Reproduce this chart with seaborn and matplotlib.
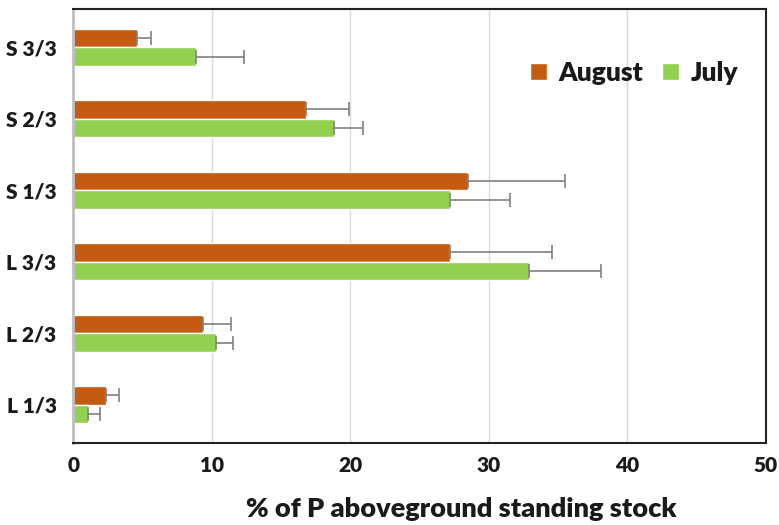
import numpy as np
import pandas as pd
import matplotlib
matplotlib.use('Agg')
import matplotlib.pyplot as plt
import seaborn as sns

# categories, top to bottom as drawn
sites = ['S 3/3', 'S 2/3', 'S 1/3', 'L 3/3', 'L 2/3', 'L 1/3']
months = ['August', 'July']

august = [4.6, 16.8, 28.5, 27.2, 9.4, 2.4]
august_err = [1.0, 3.1, 7.0, 7.4, 2.0, 0.9]
july = [8.9, 18.8, 27.2, 32.9, 10.3, 1.1]
july_err = [3.4, 2.1, 4.3, 5.2, 1.2, 0.8]

colors = {'August': '#C55A11', 'July': '#92D050'}

df = pd.DataFrame({
    'site': sites * 2,
    'month': ['August'] * len(sites) + ['July'] * len(sites),
    'value': august + july,
})

sns.set_style('white')
plt.rcParams['font.family'] = ['Lato', 'DejaVu Sans']

fig = plt.figure(figsize=(7.79, 5.25), dpi=100)
ax = fig.add_axes([0.094, 0.156, 0.889, 0.827])

sns.barplot(data=df, x='value', y='site', hue='month', order=sites,
            hue_order=months, palette=colors, width=0.52, orient='h',
            errorbar=None, ax=ax, legend=True, saturation=1)

# one-sided error bars to the right
errs = {'August': august_err, 'July': july_err}
for cont, m in zip(ax.containers, months):
    ys = [p.get_y() + p.get_height() / 2 for p in cont]
    xs = [p.get_width() for p in cont]
    e = np.array(errs[m])
    ax.errorbar(xs, ys, xerr=[np.zeros_like(e), e], fmt='none',
                ecolor='#808080', elinewidth=1.2, capsize=5, capthick=1.2)

ax.set_xlim(0, 50)
ax.set_xticks(range(0, 51, 10))
ax.xaxis.grid(True, color='#D9D9D9', linewidth=1)
ax.set_axisbelow(True)
ax.set_ylabel('')
ax.set_xlabel('% of P aboveground standing stock', fontsize=19.5,
              fontweight='heavy', labelpad=16, color='#1a1a1a')
ax.xaxis.label.set_x(0.56)
ax.tick_params(axis='x', labelsize=15, pad=9, length=0)
ax.tick_params(axis='y', labelsize=15, pad=12, length=0)
for lab in ax.get_xticklabels() + ax.get_yticklabels():
    lab.set_fontweight('heavy')
    lab.set_color('#1a1a1a')

for side in ['top', 'right', 'bottom']:
    ax.spines[side].set_color('#222222')
    ax.spines[side].set_linewidth(1.5)
ax.spines['left'].set_color('#BFBFBF')
ax.spines['left'].set_linewidth(2)

leg = ax.legend(loc='upper right', bbox_to_anchor=(0.995, 0.935), ncol=2,
                frameon=False, handlelength=0.65, handleheight=0.65,
                handletextpad=0.45, columnspacing=0.7,
                prop={'size': 19, 'weight': 'heavy'})
for t in leg.get_texts():
    t.set_color('#1a1a1a')

fig.savefig('out.png', dpi=100)
